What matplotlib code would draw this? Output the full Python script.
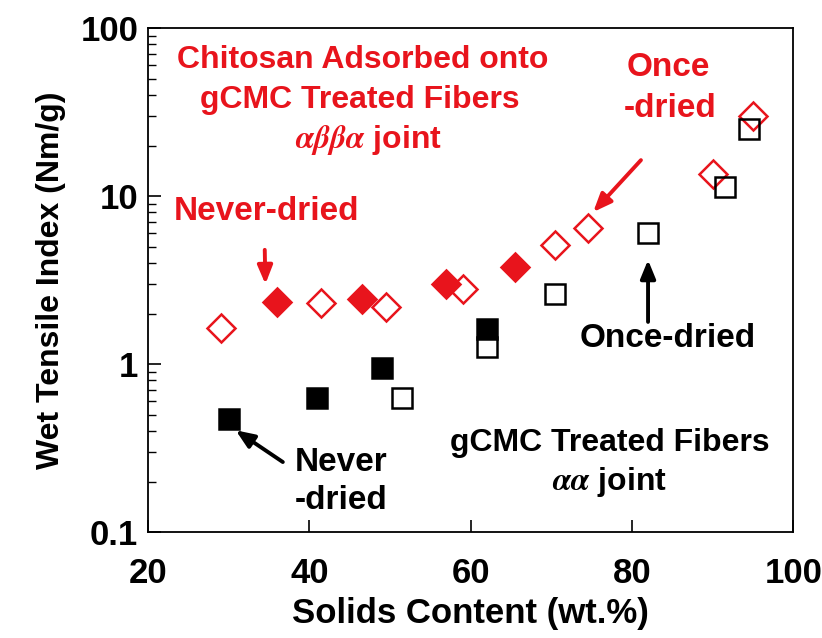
import matplotlib.pyplot as plt

# never-dried / once-dried, chitosan on gCMC fibers (red diamonds)
chit_never_x = [36, 46.5, 57, 65.5]
chit_never_y = [2.35, 2.45, 3.0, 3.8]
chit_once_x = [29, 41.5, 49.5, 59, 70.5, 74.5, 90, 95]
chit_once_y = [1.65, 2.3, 2.2, 2.8, 5.1, 6.5, 13.5, 30]

# gCMC treated fibers (black squares)
gcmc_never_x = [30, 41, 49, 62]
gcmc_never_y = [0.47, 0.63, 0.95, 1.62]
gcmc_once_x = [51.5, 62, 70.5, 82, 91.5, 94.5]
gcmc_once_y = [0.63, 1.26, 2.6, 6.0, 11.3, 25]

x_ticks = [20, 40, 60, 80, 100]
y_ticks = [0.1, 1, 10, 100]
y_ticklabels = ['0.1', '1', '10', '100']

red = '#e8141c'
plt.rcParams['font.family'] = ['Liberation Sans', 'DejaVu Sans']
plt.rcParams['font.weight'] = 'bold'
plt.rcParams['mathtext.fontset'] = 'stix'

fig = plt.figure(figsize=(8.22, 6.38), dpi=100)
ax = fig.add_axes([0.180, 0.166, 0.785, 0.790])

ms = 14.5
ax.plot(chit_once_x, chit_once_y, 'D', ms=ms, mfc='none', mec=red, mew=1.8, zorder=3)
ax.plot(chit_never_x, chit_never_y, 'D', ms=ms, mfc=red, mec=red, mew=1.8, zorder=4)
ax.plot(gcmc_once_x, gcmc_once_y, 's', ms=ms - 0.5, mfc='none', mec='black', mew=1.8, zorder=3)
ax.plot(gcmc_never_x, gcmc_never_y, 's', ms=ms - 0.5, mfc='black', mec='black', mew=1.8, zorder=4)

ax.set_yscale('log')
ax.set_xlim(20, 100)
ax.set_ylim(0.1, 100)
ax.set_xticks(x_ticks)
ax.set_yticks(y_ticks)
ax.set_yticklabels(y_ticklabels)
ax.tick_params(axis='both', which='major', direction='in', length=9, width=1.2,
               labelsize=25)
ax.tick_params(axis='y', which='minor', direction='in', length=6, width=1.0)
ax.tick_params(axis='y', which='major', pad=7)
ax.tick_params(axis='x', pad=18)
for s in ax.spines.values():
    s.set_linewidth(1.3)

ax.set_xlabel('Solids Content (wt.%)', fontsize=25, fontweight='bold', labelpad=5)
ax.set_ylabel('Wet Tensile Index (Nm/g)', fontsize=23, fontweight='bold', labelpad=10)

fs = 23
tk = dict(transform=ax.transAxes, fontweight='bold', ha='center', va='center')
ax.text(0.332, 0.937, 'Chitosan Adsorbed onto', color=red, fontsize=fs, **tk)
ax.text(0.329, 0.857, 'gCMC Treated Fibers', color=red, fontsize=fs, **tk)
ax.text(0.341, 0.778, r'$\alpha\beta\beta\alpha$ joint', color=red, fontsize=fs, **tk)
ax.text(0.184, 0.637, 'Never-dried', color=red, fontsize=fs + 1, **tk)
ax.text(0.806, 0.921, 'Once', color=red, fontsize=fs + 1, **tk)
ax.text(0.809, 0.841, '-dried', color=red, fontsize=fs + 1, **tk)

ax.text(0.806, 0.385, 'Once-dried', color='black', fontsize=fs + 1, **tk)
ax.text(0.228, 0.139, 'Never', color='black', fontsize=fs + 1, transform=ax.transAxes,
        fontweight='bold', ha='left', va='center')
ax.text(0.228, 0.063, '-dried', color='black', fontsize=fs + 1, transform=ax.transAxes,
        fontweight='bold', ha='left', va='center')
ax.text(0.716, 0.177, 'gCMC Treated Fibers', color='black', fontsize=fs, **tk)
ax.text(0.716, 0.099, r'$\alpha\alpha$ joint', color='black', fontsize=fs, **tk)

def arrow(x0, y0, x1, y1, c):
    ax.annotate('', xy=(x1, y1), xytext=(x0, y0), xycoords='axes fraction',
                textcoords='axes fraction',
                arrowprops=dict(arrowstyle='-|>,head_length=1.1,head_width=0.45',
                                color=c, lw=2.8, shrinkA=0, shrinkB=0))

arrow(0.181, 0.560, 0.182, 0.492, red)
arrow(0.764, 0.738, 0.690, 0.635, red)
arrow(0.775, 0.417, 0.775, 0.540, 'black')
arrow(0.209, 0.139, 0.136, 0.202, 'black')

fig.savefig('out.png', dpi=100)
